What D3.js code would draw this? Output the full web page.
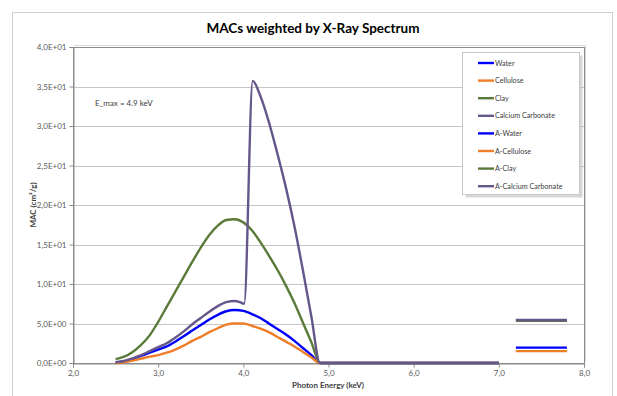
<!DOCTYPE html>
<html lang="en">
<head>
<meta charset="utf-8">
<title>MACs weighted by X-Ray Spectrum</title>
<script src="https://cdn.jsdelivr.net/npm/d3@7"></script>
<style>
  body { margin: 0; background: #fff; }
  text { font-family: Lato, "Open Sans", sans-serif; }
</style>
</head>
<body>
<script>
// photon energy (keV) shared by Water, Cellulose and Clay
var energy = [2.5, 2.6, 2.7, 2.8, 2.9, 3.0, 3.1, 3.2, 3.3, 3.4, 3.5, 3.6, 3.7, 3.8, 3.9,
              4.0, 4.1, 4.2, 4.3, 4.4, 4.5, 4.6, 4.7, 4.8, 4.9, 7.0];
var water     = [0.05, 0.2, 0.5, 0.9, 1.3, 1.7, 2.1, 2.7, 3.4, 4.1, 4.8, 5.5, 6.1, 6.55, 6.7,
                 6.6, 6.2, 5.7, 5.0, 4.3, 3.6, 2.8, 1.9, 1.0, 0, 0];
var cellulose = [0, 0.1, 0.3, 0.55, 0.8, 1.0, 1.3, 1.7, 2.2, 2.8, 3.3, 3.9, 4.4, 4.85, 5.0,
                 5.0, 4.7, 4.35, 3.9, 3.3, 2.7, 2.1, 1.4, 0.7, 0, 0];
var clay      = [0.5, 0.8, 1.4, 2.3, 3.5, 5.2, 7.1, 9.0, 10.9, 12.8, 14.6, 16.2, 17.4, 18.1, 18.2,
                 17.8, 16.8, 15.3, 13.6, 11.8, 9.8, 7.6, 5.1, 2.6, 0, 0];
// calcium carbonate has its K-edge, so its own energy points
var caEnergy  = [2.5, 2.6, 2.7, 2.8, 2.9, 3.0, 3.1, 3.2, 3.3, 3.4, 3.5, 3.6, 3.7, 3.8, 3.9,
                 3.96, 4.01, 4.11, 4.2, 4.3, 4.4, 4.5, 4.6, 4.7, 4.8, 4.9, 7.0];
var caco3     = [0.1, 0.25, 0.6, 1.0, 1.5, 2.0, 2.5, 3.2, 4.0, 4.9, 5.7, 6.5, 7.2, 7.7, 7.85,
                 7.7, 7.5, 35.7, 33.8, 30.5, 26.5, 22.2, 17.3, 11.7, 5.8, 0, 0];
// averaged values drawn as short bars on the right
var avgEnergy = [7.2, 7.8];
var avgWater = 1.95, avgCellulose = 1.5, avgClay = 5.35, avgCaco3 = 5.45;

var legendNames = ["Water", "Cellulose", "Clay", "Calcium Carbonate",
                   "A-Water", "A-Cellulose", "A-Clay", "A-Calcium Carbonate"];
var colors = ["#0000ff", "#f07d28", "#5a7a3a", "#65578a",
              "#0000ff", "#f07d28", "#5a7a3a", "#65578a"];
var yTicks = [0, 5, 10, 15, 20, 25, 30, 35, 40];
var xTicks = [2, 3, 4, 5, 6, 7, 8];

var w = 617, h = 396;
var pLeft = 73, pRight = 584, pTop = 47, pBottom = 363;

var x = d3.scaleLinear().domain([2, 8]).range([pLeft, pRight]);
var y = d3.scaleLinear().domain([0, 40]).range([pBottom, pTop]);

var svg = d3.select("body").append("svg")
  .attr("width", w).attr("height", h);

// chart area border
svg.append("rect")
  .attr("x", 12.5).attr("y", 12.5).attr("width", 600).attr("height", 400)
  .attr("fill", "none").attr("stroke", "#d0d0d0");

// title
svg.append("text")
  .attr("x", 313).attr("y", 33)
  .attr("text-anchor", "middle")
  .attr("font-size", "13.5px").attr("font-weight", "bold")
  .attr("fill", "#000")
  .text("MACs weighted by X-Ray Spectrum");

// gridlines
svg.append("g").selectAll("line")
  .data(yTicks.slice(1))
  .enter().append("line")
  .attr("x1", pLeft).attr("x2", pRight)
  .attr("y1", function(d) { return Math.round(y(d)) + 0.5; })
  .attr("y2", function(d) { return Math.round(y(d)) + 0.5; })
  .attr("stroke", "#c6c6c6");

// plot frame (with faint shadow on top/right)
svg.append("path")
  .attr("d", "M" + (pLeft + 1) + "," + (pTop - 1.5) + "H" + (pRight + 1.5) + "V" + (pBottom - 1))
  .attr("fill", "none").attr("stroke", "#d8d8d8");
svg.append("rect")
  .attr("x", pLeft + 0.5).attr("y", pTop + 0.5)
  .attr("width", pRight - pLeft).attr("height", pBottom - pTop)
  .attr("fill", "none").attr("stroke", "#8c8c8c");

function fmtY(d) {
  var e = d === 0 ? 0 : Math.floor(Math.log10(d));
  var m = d / Math.pow(10, e);
  return m.toFixed(1).replace(".", ",") + "E+" + (e < 10 ? "0" : "") + e;
}

// axes
var yAxis = d3.axisLeft(y).tickValues(yTicks).tickSize(4).tickPadding(3).tickFormat(fmtY);
var xAxis = d3.axisBottom(x).tickValues(xTicks).tickSize(4).tickPadding(3)
  .tickFormat(function(d) { return d.toFixed(1).replace(".", ","); });

var gy = svg.append("g").attr("transform", "translate(" + (pLeft + 0.5) + ",0)").call(yAxis);
var gx = svg.append("g").attr("transform", "translate(0," + (pBottom + 0.5) + ")").call(xAxis);
[gx, gy].forEach(function(g) {
  g.select(".domain").attr("stroke", "#8c8c8c");
  g.selectAll(".tick line").attr("stroke", "#8c8c8c");
  g.selectAll(".tick text").attr("fill", "#595959").attr("font-size", "8px")
    .attr("font-family", "Lato, sans-serif");
});

// axis titles
svg.append("text")
  .attr("x", 328).attr("y", 388)
  .attr("text-anchor", "middle").attr("font-size", "8px").attr("font-weight", "bold")
  .attr("fill", "#404040")
  .text("Photon Energy (keV)");
svg.append("text")
  .attr("transform", "translate(36,205) rotate(-90)")
  .attr("text-anchor", "middle").attr("font-size", "8px").attr("font-weight", "bold")
  .attr("fill", "#404040")
  .text("MAC (cm²/g)");

// annotation
svg.append("text")
  .attr("x", 95).attr("y", 106)
  .attr("font-size", "8px").attr("fill", "#404040")
  .text("E_max = 4.9 keV");

// series
var line = d3.line()
  .x(function(d) { return x(d[0]); })
  .y(function(d) { return y(d[1]); })
  .curve(d3.curveMonotoneX);

var series = [
  { xs: energy, ys: water, c: colors[0] },
  { xs: energy, ys: cellulose, c: colors[1] },
  { xs: energy, ys: clay, c: colors[2] },
  { xs: caEnergy, ys: caco3, c: colors[3] },
  { xs: avgEnergy, ys: [avgWater, avgWater], c: colors[4] },
  { xs: avgEnergy, ys: [avgCellulose, avgCellulose], c: colors[5] },
  { xs: avgEnergy, ys: [avgClay, avgClay], c: colors[6] },
  { xs: avgEnergy, ys: [avgCaco3, avgCaco3], c: colors[7] }
];

svg.append("g").selectAll("path")
  .data(series)
  .enter().append("path")
  .attr("d", function(s) { return line(s.xs.map(function(v, i) { return [v, s.ys[i]]; })); })
  .attr("fill", "none")
  .attr("stroke", function(s) { return s.c; })
  .attr("stroke-width", 2.4)
  .attr("stroke-linejoin", "round");

// legend
var lg = svg.append("g");
lg.append("rect")
  .attr("x", 465.5).attr("y", 55.5).attr("width", 117).attr("height", 142)
  .attr("fill", "#bdbdbd").attr("opacity", 0.6);
lg.append("rect")
  .attr("x", 462.5).attr("y", 52.5).attr("width", 117).attr("height", 142)
  .attr("fill", "#fff").attr("stroke", "#c8c8c8");
var items = lg.selectAll("g.item")
  .data(legendNames)
  .enter().append("g")
  .attr("transform", function(d, i) { return "translate(0," + (63 + i * 17.6) + ")"; });
items.append("line")
  .attr("x1", 478).attr("x2", 494)
  .attr("stroke", function(d, i) { return colors[i]; })
  .attr("stroke-width", 2.4);
items.append("text")
  .attr("x", 495).attr("y", 2.6)
  .attr("font-size", "7.2px").attr("fill", "#404040")
  .text(function(d) { return d; });
</script>
</body>
</html>
